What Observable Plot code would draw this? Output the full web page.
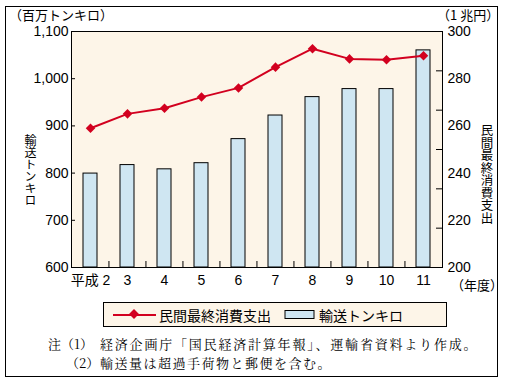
<!DOCTYPE html>
<html><head><meta charset="utf-8">
<script src="https://cdn.jsdelivr.net/npm/d3@7"></script>
<script src="https://cdn.jsdelivr.net/npm/@observablehq/plot@0.6"></script>
<style>
body{margin:0;background:#fff;}
#wrap{position:relative;width:506px;height:382px;overflow:hidden;}
#border{position:absolute;left:5px;top:6px;width:493px;height:371px;border:1px solid #000;box-sizing:border-box;}
#chart{position:absolute;left:0;top:0;}
.t{position:absolute;white-space:nowrap;font-family:"Noto Sans CJK JP",sans-serif;color:#000;line-height:1;}
.v{writing-mode:vertical-rl;text-orientation:upright;}
.serif{font-family:"Noto Serif CJK JP","Noto Sans CJK JP",serif;font-size:13px;}
#legend{position:absolute;left:103px;top:302px;width:344px;height:25px;border:1px solid #000;box-sizing:border-box;background:#fdf5e8;}
</style>
</head><body>
<div id="wrap">
  <div id="border"></div>
  <div id="chart"></div>
  <div class="t" style="left:9px;top:8px;font-size:13px;">（百万トンキロ）</div>
  <div class="t" style="left:437px;top:8px;font-size:13px;">（1 兆円）</div>
  <div class="t v" style="left:24px;top:134px;font-size:12px;">輸送トンキロ</div>
  <div class="t v" style="left:480px;top:124px;font-size:12.5px;">民間最終消費支出</div>
  <div class="t" style="left:451px;top:278px;font-size:13px;">（年度）</div>
  <div id="legend">
    <svg width="344" height="25" style="position:absolute;left:0;top:0">
      <line x1="9" x2="52" y1="12" y2="12" stroke="#d2001f" stroke-width="2"/>
      <rect x="26.5" y="7.5" width="7" height="7" fill="#d2001f" transform="rotate(45 30 11)"/>
      <rect x="181" y="7.5" width="29" height="8" fill="#cfe6f2" stroke="#000"/>
    </svg>
    <div class="t" style="left:55px;top:5px;font-size:14px;">民間最終消費支出</div>
    <div class="t" style="left:215px;top:5px;font-size:14px;">輸送トンキロ</div>
  </div>
  <div class="t serif" style="left:48px;top:337px;">注</div>
  <div class="t serif" style="left:61px;top:337px;">（1）</div>
  <div class="t serif" style="left:100px;top:337px;letter-spacing:1.8px;">経済企画庁「国民経済計算年報」、運輸省資料より作成。</div>
  <div class="t serif" style="left:66px;top:356px;">（2）</div>
  <div class="t serif" style="left:100px;top:356px;letter-spacing:1.5px;">輸送量は超過手荷物と郵便を含む。</div>
</div>
<script>
const categories = ["平成 2","3","4","5","6","7","8","9","10","11"];
const tonKm = [799, 817, 808, 821, 872, 922, 961, 978, 978, 1060];
const consumption = [259.0, 265.1, 267.5, 272.2, 276.1, 284.9, 292.7, 288.4, 288.0, 289.7];
const leftTicks = [600, 700, 800, 900, 1000, 1100];
const rightTicks = [200, 220, 240, 260, 280, 300];
const rightTickMarks = [200, 216.67, 233.33, 250, 266.67, 283.33, 300];

const toLeft = v => 600 + (v - 200) * 5;
const fromLeft = d => String(Math.round((d - 600) / 5 + 200));
const fmtComma = d3.format(",");

const barData = categories.map((c, i) => ({cat: c, v: tonKm[i]}));
const lineData = categories.map((c, i) => ({cat: c, v: toLeft(consumption[i])}));

const W = 506, H = 290;
const mL = 71, mR = 64, mT = 31, mB = 23;
const plotW = W - mL - mR, plotH = H - mT - mB;
const step = plotW / categories.length;

const chart = Plot.plot({
  width: W, height: H,
  marginLeft: mL, marginRight: mR, marginTop: mT, marginBottom: mB,
  style: {fontFamily: "'Liberation Sans', Arial, 'Noto Sans CJK JP', sans-serif", fontSize: "14px", background: "transparent", color: "#000"},
  x: {domain: categories, paddingInner: 0.62, paddingOuter: 0.31, label: null},
  y: {domain: [600, 1100], label: null},
  marks: [
    Plot.frame({fill: "#fdf5e8", stroke: null}),
    Plot.barY(barData, {x: "cat", y1: 600, y2: "v", fill: "#cfe6f2", stroke: "#000", strokeWidth: 1}),
    Plot.ruleY(leftTicks, {y: d => d, insetRight: plotW - 4, stroke: "#000"}),
    Plot.ruleY(rightTickMarks.map(toLeft), {y: d => d, insetLeft: plotW - 6, stroke: "#000"}),
    Plot.ruleX(categories.slice(1), {x: d => d, dx: -step / 2, insetTop: plotH - 6, stroke: "#000"}),
    Plot.line(lineData, {x: "cat", y: "v", stroke: "#d2001f", strokeWidth: 2}),
    Plot.dot(lineData, {x: "cat", y: "v", symbol: "square", r: 3.8, rotate: 45, fill: "#d2001f", stroke: null}),
    Plot.axisY(leftTicks, {anchor: "left", tickSize: 0, tickPadding: 3, tickFormat: fmtComma, label: null, fontSize: 14}),
    Plot.axisY(rightTicks.map(toLeft), {anchor: "right", tickSize: 0, tickPadding: 5, tickFormat: fromLeft, label: null, fontSize: 14}),
    Plot.axisX({tickSize: 0, tickPadding: 8, label: null, fontSize: 14}),
    Plot.frame({stroke: "#000", strokeWidth: 1})
  ]
});
document.getElementById("chart").appendChild(chart);
</script>
</body></html>
